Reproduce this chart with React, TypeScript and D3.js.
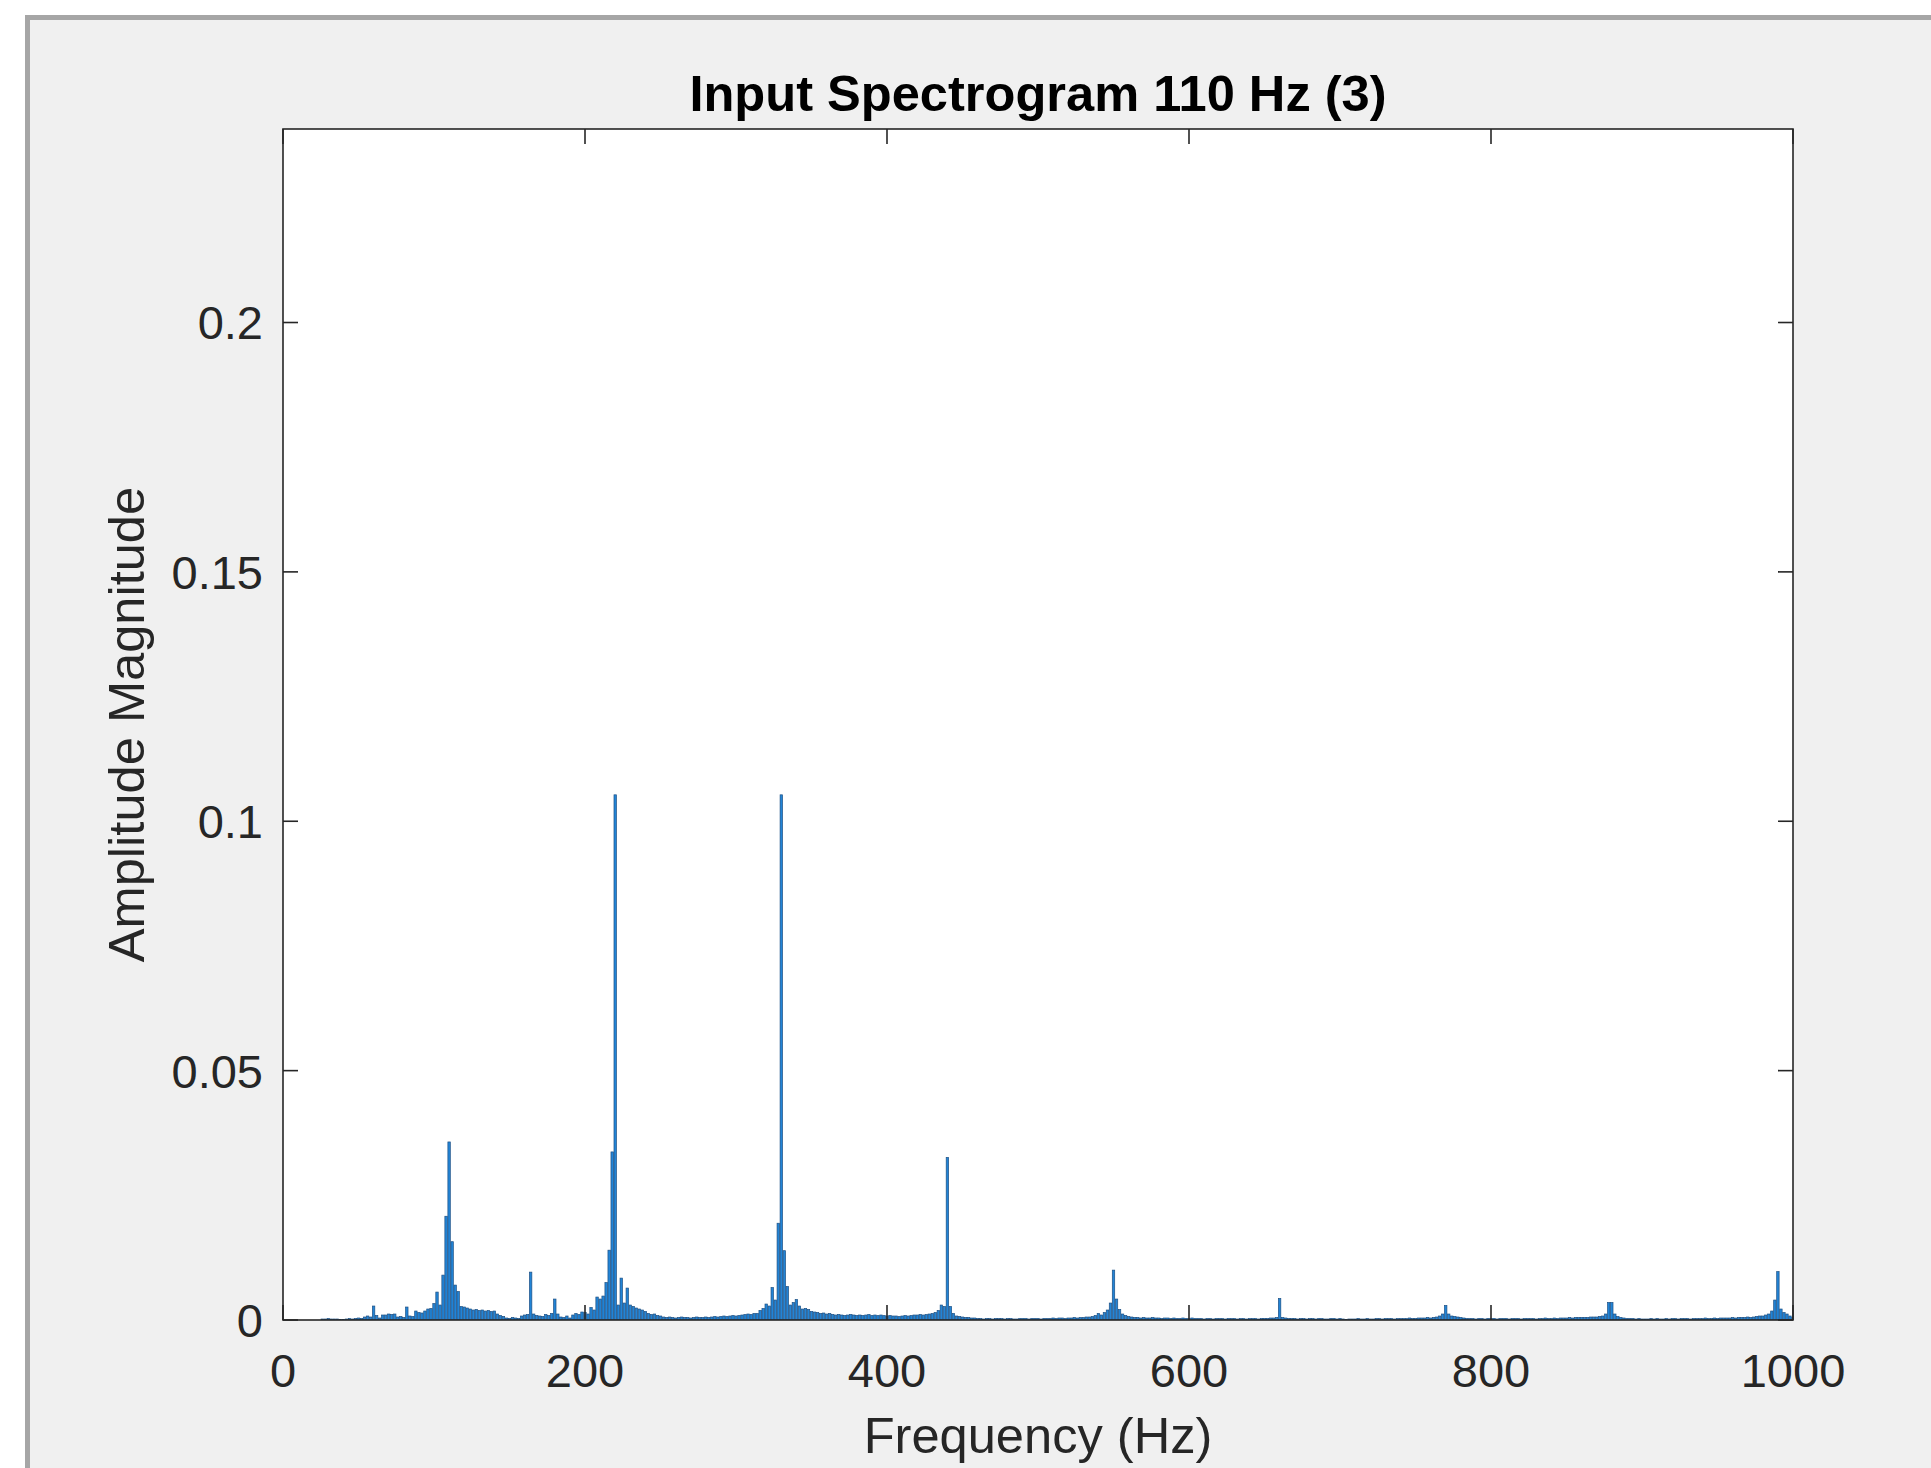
import React from 'react';
import * as d3 from 'd3';

const TITLE = 'Input Spectrogram 110 Hz (3)';
const X_LABEL = 'Frequency (Hz)';
const Y_LABEL = 'Amplitude Magnitude';
const BIN_HZ = 2;
const X_DOMAIN = [0, 1000];
const Y_DOMAIN = [0, 0.2388];
const X_TICKS = [0, 200, 400, 600, 800, 1000];
const X_TICK_LABELS = ['0', '200', '400', '600', '800', '1000'];
const Y_TICKS = [0, 0.05, 0.1, 0.15, 0.2];
const Y_TICK_LABELS = ['0', '0.05', '0.1', '0.15', '0.2'];

// Magnitudes per 2 Hz bin
const bins0to198 = [
  0, 0, 0, 0, 0, 0, 0, 0, 0, 0, 0, 0, 0,
  0.0002, 0.0002, 0.0003, 0.0002, 0.0002, 0.0002, 0.0001, 0.0001, 0.0002, 0.0003, 0.0002, 0.0003, 0.0004, 0.0003,
  0.0006, 0.0008, 0.0006, 0.0028, 0.0009, 0.0004, 0.0010, 0.0010, 0.0012, 0.0011, 0.0012, 0.0006, 0.0007, 0.0005, 0.0026, 0.0008, 0.0007, 0.0018, 0.0015, 0.0014, 0.0018, 0.0022, 0.0023,
  0.0033, 0.0056, 0.0030, 0.0090, 0.0208, 0.0357, 0.0157, 0.0070, 0.0057, 0.0027, 0.0026, 0.0024, 0.0022, 0.0020, 0.0021, 0.0019, 0.0020, 0.0018, 0.0019, 0.0017, 0.0018, 0.0012, 0.0009, 0.0007, 0.0004,
  0.0003, 0.0005, 0.0004, 0.0003, 0.0008, 0.0010, 0.0011, 0.0096, 0.0012, 0.0009, 0.0008, 0.0007, 0.0011, 0.0009, 0.0013, 0.0042, 0.0012, 0.0006, 0.0005, 0.0008, 0.0004, 0.0010, 0.0013, 0.0011, 0.0016,
];
const bins200to398 = [
  0.0015, 0.0012, 0.0025, 0.0020, 0.0046, 0.0042, 0.0048, 0.0075, 0.0140, 0.0337, 0.1053, 0.0030, 0.0084, 0.0034, 0.0064, 0.0030, 0.0027, 0.0024, 0.0022, 0.0020, 0.0017, 0.0013, 0.0011, 0.0012, 0.0009, 0.0008, 0.0006,
  0.0005, 0.0006, 0.0005, 0.0004, 0.0005, 0.0006, 0.0005, 0.0005, 0.0004, 0.0005, 0.0006, 0.0005, 0.0005, 0.0006, 0.0005, 0.0006, 0.0007, 0.0006, 0.0007, 0.0008, 0.0007, 0.0008, 0.0009, 0.0008, 0.0009, 0.0010, 0.0011, 0.0012, 0.0011, 0.0013,
  0.0013, 0.0019, 0.0023, 0.0032, 0.0028, 0.0065, 0.0040, 0.0194, 0.1053, 0.0139, 0.0067, 0.0030, 0.0035, 0.0041, 0.0028, 0.0022, 0.0023, 0.0021, 0.0017, 0.0016, 0.0015, 0.0013, 0.0014, 0.0012, 0.0013,
  0.0011, 0.0010, 0.0011, 0.0010, 0.0009, 0.0010, 0.0011, 0.0010, 0.0009, 0.0010, 0.0009, 0.0010, 0.0011, 0.0009, 0.0010, 0.0009, 0.0010, 0.0009,
];
const bins400to598 = [
  0.0008, 0.0009, 0.0008, 0.0008, 0.0007, 0.0008, 0.0009, 0.0008, 0.0009, 0.0010, 0.0010, 0.0011, 0.0010, 0.0011, 0.0012, 0.0013,
  0.0015, 0.0019, 0.0030, 0.0027, 0.0326, 0.0027, 0.0013, 0.0008, 0.0007, 0.0006, 0.0005, 0.0005, 0.0004, 0.0004,
  0.0003, 0.0003, 0.0002, 0.0003, 0.0003, 0.0002, 0.0003, 0.0003, 0.0003, 0.0002, 0.0003, 0.0003, 0.0002, 0.0002, 0.0003, 0.0003, 0.0003, 0.0002, 0.0003, 0.0003,
  0.0003, 0.0002, 0.0003, 0.0003, 0.0003, 0.0004, 0.0003, 0.0004, 0.0004, 0.0003, 0.0004, 0.0004, 0.0005, 0.0004, 0.0005, 0.0005, 0.0006, 0.0006,
  0.0007, 0.0009, 0.0013, 0.0010, 0.0015, 0.0020, 0.0034, 0.0100, 0.0042, 0.0021, 0.0012, 0.0009, 0.0007, 0.0006,
  0.0005, 0.0005, 0.0004, 0.0005, 0.0004, 0.0004, 0.0005, 0.0004, 0.0004, 0.0003, 0.0004, 0.0004, 0.0003, 0.0004, 0.0003, 0.0003, 0.0004, 0.0003,
];
const bins600to798 = [
  0.0003, 0.0004, 0.0003, 0.0003, 0.0003, 0.0002, 0.0003, 0.0003, 0.0002, 0.0003, 0.0003, 0.0003, 0.0002, 0.0003, 0.0003, 0.0003, 0.0002, 0.0003, 0.0003, 0.0002,
  0.0003, 0.0003, 0.0003, 0.0002, 0.0003, 0.0003, 0.0003, 0.0004, 0.0004, 0.0005,
  0.0043,
  0.0005, 0.0004, 0.0003, 0.0003, 0.0003, 0.0002, 0.0003, 0.0003, 0.0002, 0.0003, 0.0003, 0.0002, 0.0003, 0.0003, 0.0002, 0.0002, 0.0003, 0.0003, 0.0002, 0.0003,
  0.0002, 0.0001, 0.0002, 0.0002, 0.0002, 0.0003, 0.0002, 0.0002, 0.0003, 0.0002, 0.0002, 0.0003, 0.0003, 0.0002, 0.0003, 0.0003, 0.0003, 0.0002, 0.0003, 0.0003,
  0.0003, 0.0003, 0.0004, 0.0003, 0.0003, 0.0004, 0.0004, 0.0004, 0.0005, 0.0004, 0.0005, 0.0006,
  0.0008, 0.0012, 0.0029, 0.0012, 0.0008, 0.0007, 0.0006, 0.0005,
  0.0004, 0.0003, 0.0003, 0.0003, 0.0002, 0.0003, 0.0003, 0.0002, 0.0003,
];
const bins800to1000 = [
  0.0003, 0.0003, 0.0002, 0.0003, 0.0003, 0.0003, 0.0002, 0.0003, 0.0003, 0.0003, 0.0002, 0.0003, 0.0003, 0.0003, 0.0003, 0.0002, 0.0003, 0.0003, 0.0004, 0.0003,
  0.0003, 0.0004, 0.0003, 0.0004, 0.0004, 0.0004, 0.0005, 0.0004, 0.0005, 0.0005, 0.0005, 0.0005,
  0.0005, 0.0006, 0.0006, 0.0006, 0.0007, 0.0008,
  0.0012, 0.0035, 0.0035, 0.0012, 0.0007, 0.0005,
  0.0004, 0.0003, 0.0003, 0.0003, 0.0002, 0.0003, 0.0002, 0.0002, 0.0002, 0.0003, 0.0002, 0.0003, 0.0002, 0.0002, 0.0003, 0.0002, 0.0003, 0.0003, 0.0002, 0.0003,
  0.0003, 0.0003, 0.0002, 0.0003, 0.0003, 0.0003, 0.0003, 0.0004, 0.0003, 0.0003, 0.0004, 0.0003, 0.0004, 0.0004, 0.0004, 0.0004, 0.0005, 0.0004, 0.0005, 0.0005,
  0.0005, 0.0006, 0.0005,
  0.0006, 0.0007, 0.0008, 0.0008, 0.0010, 0.0012,
  0.0018, 0.0040, 0.0097, 0.0022, 0.0015, 0.0012, 0.0008, 0.0005,
];
const BAND_STARTS = [0, 200, 400, 600, 800];
const BANDS = [bins0to198, bins200to398, bins400to598, bins600to798, bins800to1000];

const FONT = "'Liberation Sans', Arial, Helvetica, sans-serif";
const AXIS_COLOR = '#262626';

export default function App() {
  const W = 1931;
  const H = 1468;
  const L = 283, R = 1793, T = 129, B = 1320;
  const x = d3.scaleLinear().domain(X_DOMAIN).range([L, R]);
  const y = d3.scaleLinear().domain(Y_DOMAIN).range([B, T]);
  const data = BANDS.flatMap((vals, bi) => vals.map((v, i) => ({ f: BAND_STARTS[bi] + i * BIN_HZ, v })));
  const bw = x(BIN_HZ * 0.8) - x(0);
  const tickLen = 15;

  return (
    <svg width={W} height={H} style={{ position: 'absolute', left: 0, top: 0, display: 'block' }} xmlns="http://www.w3.org/2000/svg">
      <rect x={0} y={0} width={W} height={H} fill="#ffffff" />
      <rect x={25} y={15} width={W - 25} height={H - 15} fill="#a6a6a6" />
      <rect x={30} y={20} width={W - 30} height={H - 20} fill="#f0f0f0" />
      <defs>
        <clipPath id="plotclip">
          <rect x={L} y={T} width={R - L} height={B - T} />
        </clipPath>
      </defs>
      <rect x={L} y={T} width={R - L} height={B - T} fill="#ffffff" />
      <g clipPath="url(#plotclip)">
        {data.filter(d => d.v > 0).map((d, i) => (
          <rect key={i} x={x(d.f) - bw / 2} y={y(d.v)} width={bw} height={y(0) - y(d.v)}
            fill="#2284d6" stroke="#1d5084" strokeWidth={0.7} />
        ))}
      </g>
      <rect x={L} y={T} width={R - L} height={B - T} fill="none" stroke={AXIS_COLOR} strokeWidth={1.6} />
      {X_TICKS.map((t, i) => (
        <g key={'xt' + i}>
          <line x1={x(t)} x2={x(t)} y1={B} y2={B - tickLen} stroke={AXIS_COLOR} strokeWidth={1.6} />
          <line x1={x(t)} x2={x(t)} y1={T} y2={T + tickLen} stroke={AXIS_COLOR} strokeWidth={1.6} />
          <text x={x(t)} y={1387} textAnchor="middle" fontFamily={FONT} fontSize={47} fill={AXIS_COLOR}>{X_TICK_LABELS[i]}</text>
        </g>
      ))}
      {Y_TICKS.map((t, i) => (
        <g key={'yt' + i}>
          <line x1={L} x2={L + tickLen} y1={y(t)} y2={y(t)} stroke={AXIS_COLOR} strokeWidth={1.6} />
          <line x1={R} x2={R - tickLen} y1={y(t)} y2={y(t)} stroke={AXIS_COLOR} strokeWidth={1.6} />
          <text x={263} y={y(t)} dy="0.36em" textAnchor="end" fontFamily={FONT} fontSize={47} fill={AXIS_COLOR}>{Y_TICK_LABELS[i]}</text>
        </g>
      ))}
      <text x={(L + R) / 2} y={111} textAnchor="middle" fontFamily={FONT} fontSize={50.6} fontWeight="bold" fill="#000000">{TITLE}</text>
      <text x={(L + R) / 2} y={1453} textAnchor="middle" fontFamily={FONT} fontSize={50.6} fill={AXIS_COLOR}>{X_LABEL}</text>
      <text transform={`translate(144, ${(T + B) / 2}) rotate(-90)`} textAnchor="middle" fontFamily={FONT} fontSize={50.6} fill={AXIS_COLOR}>{Y_LABEL}</text>
    </svg>
  );
}
